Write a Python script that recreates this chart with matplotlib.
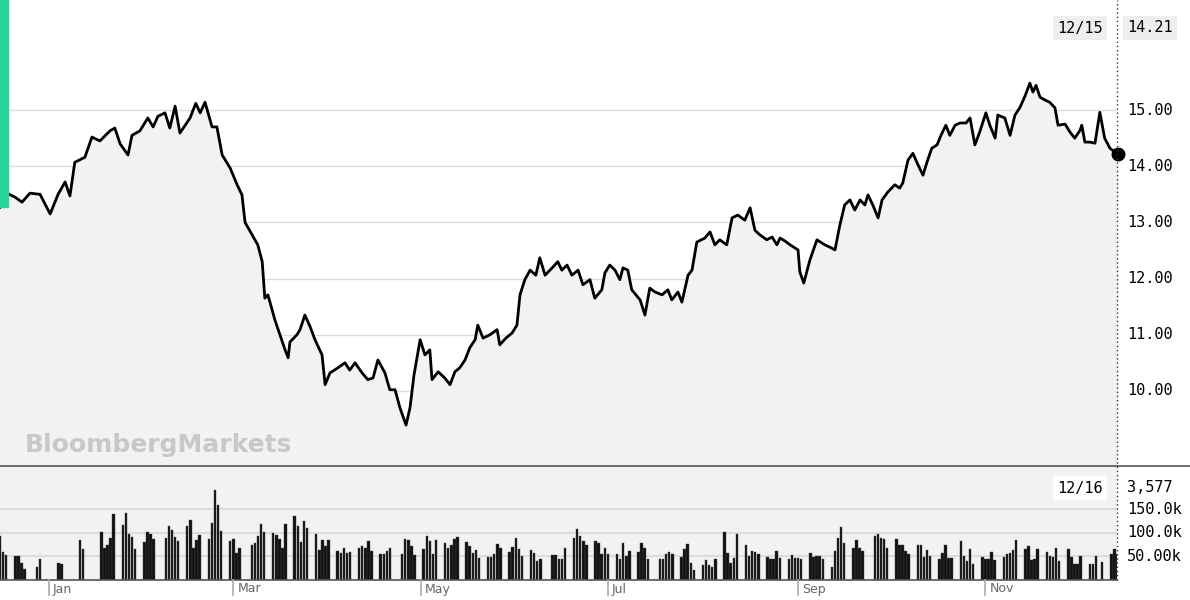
import numpy as np
import matplotlib.pyplot as plt
from matplotlib.patches import Rectangle

# price readings: position in trading sessions from start, close
sessions = [0, 1.1, 3.4, 5, 6.8, 9.1, 11.4, 13.2, 14.8, 15.9, 17, 19.3, 20.9, 22.7, 25, 26.1, 27.3, 29.1, 30, 31.8,
            33.6, 34.8, 35.9, 37.5, 38.6, 39.8, 40.9, 43.2, 44.5, 45.5, 46.6, 48.2, 49.3, 50.5, 52.3, 53.9, 55, 55.7, 57.3, 58.6,
            59.6, 60.2, 60.9, 62.5, 64.8, 65.5, 65.9, 67.5, 68.2, 69.3, 70.5, 71.6, 73.2, 73.9, 75, 76.8, 78.4, 79.5, 80.7, 82.3,
            83.6, 84.8, 85.9, 87.5, 88.6, 89.8, 90.9, 92.3, 93.2, 94.1, 95.5, 96.6, 97.7, 98.2, 99.6, 101.1, 102.3, 103.4, 104.5, 105.7,
            106.8, 108, 108.6, 109.8, 111.4, 113, 113.6, 115, 116.4, 117.5, 118.2, 119.3, 120.5, 121.8, 122.7, 123.9, 125.5, 126.8, 127.7, 128.9,
            130, 131.4, 132.5, 134.1, 135.2, 136.8, 137.5, 138.6, 139.8, 140.9, 141.6, 142.7, 143.6, 145.5, 146.6, 147.7, 148.9, 150.5, 151.8, 152.7,
            154.1, 155, 156.4, 157.3, 158.4, 160.2, 161.4, 162.5, 163.6, 165.2, 166.4, 167.7, 169.3, 170.5, 171.6, 172.7, 174.3, 175.5, 176.6, 177.3,
            178.4, 179.6, 181.4, 181.8, 182.7, 184.1, 185.7, 187.5, 188.6, 189.8, 190.9, 192, 193.2, 194.3, 195.5, 196.6, 197.3, 198.4, 199.6, 200.5,
            201.8, 203.4, 204.5, 205.2, 206.4, 207.5, 208.7, 209.8, 210.7, 211.8, 213, 213.9, 215, 215.9, 217.1, 218.2, 219.6, 220.5, 221.6, 222.7,
            224.1, 225, 226.2, 226.8, 228.4, 229.6, 230.7, 231.8, 233, 234.1, 234.8, 235.5, 236.4, 237.5, 238.6, 239.8, 240.5, 242.1, 243.2, 244.3,
            245.5, 245.9, 246.6, 247.7, 248.9, 250, 251.1, 252.3, 254.1]
prices = [13.27, 13.54, 13.45, 13.36, 13.52, 13.5, 13.15, 13.5, 13.72, 13.47, 14.07, 14.16, 14.52, 14.45, 14.63, 14.68, 14.4, 14.2, 14.55, 14.63,
          14.86, 14.7, 14.89, 14.95, 14.68, 15.07, 14.59, 14.86, 15.12, 14.95, 15.14, 14.7, 14.7, 14.2, 13.97, 13.67, 13.49, 13.0, 12.78, 12.6,
          12.3, 11.65, 11.71, 11.26, 10.73, 10.59, 10.87, 11.0, 11.09, 11.35, 11.14, 10.91, 10.64, 10.11, 10.32, 10.41, 10.5, 10.37, 10.5, 10.32,
          10.2, 10.23, 10.55, 10.32, 10.02, 10.02, 9.7, 9.39, 9.7, 10.28, 10.91, 10.64, 10.73, 10.2, 10.34, 10.23, 10.11, 10.34, 10.41, 10.55,
          10.77, 10.91, 11.17, 10.94, 11.0, 11.09, 10.82, 10.94, 11.03, 11.17, 11.71, 11.98, 12.15, 12.06, 12.37, 12.06, 12.19, 12.3, 12.15, 12.24,
          12.06, 12.15, 11.89, 11.98, 11.65, 11.8, 12.1, 12.24, 12.15, 11.98, 12.19, 12.15, 11.8, 11.62, 11.35, 11.83, 11.76, 11.71, 11.8, 11.62,
          11.76, 11.58, 12.06, 12.15, 12.65, 12.72, 12.83, 12.6, 12.69, 12.6, 13.08, 13.13, 13.04, 13.26, 12.86, 12.78, 12.69, 12.74, 12.6, 12.72,
          12.67, 12.6, 12.51, 12.12, 11.92, 12.33, 12.69, 12.6, 12.56, 12.51, 12.95, 13.31, 13.4, 13.22, 13.4, 13.31, 13.49, 13.31, 13.08, 13.4,
          13.54, 13.67, 13.61, 13.7, 14.11, 14.23, 14.02, 13.84, 14.07, 14.32, 14.38, 14.55, 14.73, 14.55, 14.73, 14.77, 14.77, 14.86, 14.38, 14.61,
          14.95, 14.73, 14.5, 14.91, 14.86, 14.55, 14.91, 15.04, 15.25, 15.48, 15.32, 15.44, 15.23, 15.18, 15.14, 15.04, 14.73, 14.75, 14.61, 14.5,
          14.64, 14.73, 14.43, 14.43, 14.41, 14.96, 14.5, 14.32, 14.21]

# weekly volume (thousands), Mon..Fri, first week starts Mon 2015-12-14
weekly_volume = [
    [0, 0, 93, 59, 54], [52, 51, 36, 24], [27, 45], [36, 35], [85, 65],
    [102, 67, 75, 90, 141], [117, 143, 97, 92, 66], [81, 102, 97, 88], [89, 115, 107, 92, 83],
    [115, 127, 67, 84, 95], [87, 121, 191, 159, 105], [83, 88, 57, 69], [75, 79, 93, 119, 102],
    [100, 95, 87, 69, 119], [135, 115, 81, 125, 111], [98, 63, 84, 73, 84], [62, 57, 67, 57, 59],
    [67, 73, 67, 82, 61], [56, 56, 62, 69], [56, 88, 84, 73, 54], [66, 93, 83, 56, 84],
    [79, 67, 74, 87, 92], [81, 73, 57, 64, 47], [49, 49, 56, 76, 69], [59, 71, 90, 65, 51],
    [64, 57, 41, 45], [54, 54, 44, 45, 68], [89, 108, 93, 83, 74], [83, 79, 56, 67, 56],
    [56, 45, 78, 50, 62], [59, 79, 67, 44], [44, 45, 56, 59, 56], [49, 66, 76, 37, 21],
    [31, 42, 32, 27, 44], [103, 58, 37, 46, 98], [74, 52, 62, 59, 56], [49, 44, 44, 61, 47],
    [45, 54, 47, 46, 45], [58, 49, 52, 52, 44], [28, 61, 89, 113, 79], [69, 84, 67, 62],
    [93, 98, 89, 87, 67], [87, 75, 75, 61, 56], [75, 75, 49, 64, 52], [44, 58, 75, 47, 47],
    [83, 51, 41, 65, 34], [49, 45, 45, 59, 42], [49, 56, 57, 64, 84], [65, 72, 42, 44, 65],
    [59, 52, 49, 69, 41], [65, 49, 33, 33, 52], [33, 35, 51, 0, 38], [56, 65, 55, 38, 38],
    [37, 28, 64, 42, 49], [53, 38],
]

month_labels = ["Jan", "Mar", "May", "Jul", "Sep", "Nov"]
month_days = [16, 76, 137, 198, 260, 321]  # calendar days after 2015-12-16
price_ticks = [10, 11, 12, 13, 14, 15]
vol_ticks = [50, 100, 150]
vol_tick_labels = ["50.00k", "100.0k", "150.0k"]

# trading sessions -> calendar days
days = np.array(sessions) * 1.433
vol_x, vol_y = [], []
for w, week in enumerate(weekly_volume):
    for d, v in enumerate(week):
        if v > 0:
            vol_x.append(7 * w + d - 2)
            vol_y.append(v)

W, H = 1190, 600
fig = plt.figure(figsize=(W / 100, H / 100), dpi=100)
right = 1117 / W
mono = "DejaVu Sans Mono"
grid_c = "#dcdcdc"
xmax = 1117 / 3.07

ax = fig.add_axes([0, 1 - 465 / H, right, 465 / H])
ax.set_xlim(0, xmax)
ax.set_ylim(8.68, 16.96)
ax.fill_between(days, prices, 8.68, color="#f2f2f2", zorder=1)
for t in price_ticks:
    ax.axhline(t, color=grid_c, lw=1, zorder=0)
ax.plot(days, prices, color="black", lw=2, zorder=3)
ax.plot(days[-1], prices[-1], "o", color="black", ms=9, zorder=4, clip_on=False)
ax.axis("off")
for t in price_ticks:
    fig.text(1127 / W, ax.transData.transform((0, t))[1] / H, f"{t:.2f}", family=mono,
             fontsize=11, va="center", ha="left")
fig.text(1057 / W, 1 - 28 / H, "12/15", family=mono, fontsize=11, va="center", ha="left",
         bbox=dict(fc="#eeeeee", ec="none", pad=3))
fig.text(1127 / W, 1 - 28 / H, "14.21", family=mono, fontsize=11, va="center", ha="left",
         bbox=dict(fc="#eeeeee", ec="none", pad=3))
fig.text(25 / W, 1 - 445 / H, "BloombergMarkets", fontsize=18, fontweight="bold",
         color="#c8c8c8", va="center", ha="left")
fig.patches.append(Rectangle((0, 1 - 207 / H), 8 / W, 207 / H, transform=fig.transFigure,
                             color="#27d39b", zorder=5))

vax = fig.add_axes([0, 20 / H, right, 113 / H])
vax.set_facecolor("#f2f2f2")
vax.set_xlim(0, xmax)
vax.set_ylim(0, 240)
for t in vol_ticks:
    vax.axhline(t, color=grid_c, lw=1.5, zorder=0)
vax.bar(vol_x, vol_y, width=0.8, color="#111111", edgecolor="#444444", lw=0.3, zorder=2)
for s in vax.spines.values():
    s.set_visible(False)
vax.set_xticks([])
vax.set_yticks([])
for t, lab in zip(vol_ticks, vol_tick_labels):
    fig.text(1127 / W, vax.transData.transform((0, t))[1] / H, lab, family=mono,
             fontsize=11, va="center", ha="left")
fig.text(1057 / W, 1 - 488 / H, "12/16", family=mono, fontsize=11, va="center", ha="left",
         bbox=dict(fc="white", ec="none", pad=3))
fig.text(1127 / W, 1 - 488 / H, "3,577", family=mono, fontsize=11, va="center", ha="left",
         bbox=dict(fc="white", ec="none", pad=3))

# separators, axis line, dotted cursor
fig.add_artist(plt.Line2D([0, 1], [1 - 466 / H] * 2, color="#555555", lw=1.2))
fig.add_artist(plt.Line2D([0, right], [20 / H] * 2, color="#555555", lw=1.2))
fig.add_artist(plt.Line2D([right, right], [20 / H, 1], color="#333333", lw=1, ls=(0, (1, 2))))
for d, lab in zip(month_days, month_labels):
    xf = d / xmax * right
    fig.add_artist(plt.Line2D([xf, xf], [5 / H, 20 / H], color="#aaaaaa", lw=1.2))
    fig.text(xf + 4 / W, 11 / H, lab, fontsize=9, color="#666666", va="center", ha="left")

fig.savefig("out.png", dpi=100)
